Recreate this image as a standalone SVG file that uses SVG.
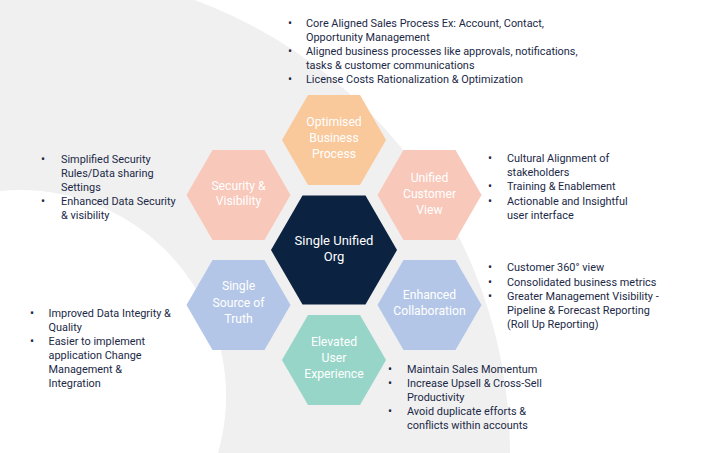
<svg xmlns="http://www.w3.org/2000/svg" xmlns:xlink="http://www.w3.org/1999/xlink" width="709" height="453" viewBox="0 0 709 453">
<defs>
<style>
.hexlabel{font-family:Roboto,"Liberation Sans",sans-serif;font-size:12.2px;fill:#ffffff;text-anchor:middle}
.core{font-size:13px}
.bl{font-family:Roboto,"Liberation Sans",sans-serif;font-size:10.9px;fill:#1b2947}
.dot{text-anchor:middle;font-size:12px}
.peach{fill:#f9c89b}
.pink{fill:#f8c8ba}
.blue{fill:#b4c6e7}
.mint{fill:#96d5c7}
.navy{fill:#0b2341}
</style>
<polygon id="hexS" points="-52,0 -26,-45 26,-45 52,0 26,45 -26,45"/>
<polygon id="hexL" points="-63,0 -31.5,-54.6 31.5,-54.6 63,0 31.5,54.6 -31.5,54.6"/>
</defs>
<rect width="709" height="453" fill="#ffffff"/>
<g id="background">
<circle cx="27" cy="453" r="483" fill="#f0f0f0"/>
<circle cx="20" cy="396" r="206" fill="#ffffff"/>
</g>
<g id="connectors"/>
<g id="node-core">
<use xlink:href="#hexL" x="334" y="250" class="navy"/>
<text class="hexlabel core" x="334" y="244.5">Single Unified</text>
<text class="hexlabel core" x="334" y="260.5">Org</text>
</g>
<g id="node-optimised">
<use xlink:href="#hexS" x="334" y="140" class="peach"/>
<text class="hexlabel" x="334" y="126.3">Optimised</text>
<text class="hexlabel" x="334" y="142.3">Business</text>
<text class="hexlabel" x="334" y="158.3">Process</text>
</g>
<g id="node-unified">
<use xlink:href="#hexS" x="429.5" y="195" class="pink"/>
<text class="hexlabel" x="429.5" y="181.6">Unified</text>
<text class="hexlabel" x="429.5" y="197.6">Customer</text>
<text class="hexlabel" x="429.5" y="213.6">View</text>
</g>
<g id="node-collab">
<use xlink:href="#hexS" x="429.5" y="305" class="blue"/>
<text class="hexlabel" x="429.5" y="298.6">Enhanced</text>
<text class="hexlabel" x="429.5" y="314.6">Collaboration</text>
</g>
<g id="node-ux">
<use xlink:href="#hexS" x="334" y="360" class="mint"/>
<text class="hexlabel" x="334" y="346">Elevated</text>
<text class="hexlabel" x="334" y="362">User</text>
<text class="hexlabel" x="334" y="378">Experience</text>
</g>
<g id="node-truth">
<use xlink:href="#hexS" x="238.5" y="305" class="blue"/>
<text class="hexlabel" x="238.5" y="290.3">Single</text>
<text class="hexlabel" x="238.5" y="306.6">Source of</text>
<text class="hexlabel" x="238.5" y="322.6">Truth</text>
</g>
<g id="node-security">
<use xlink:href="#hexS" x="238.5" y="195" class="pink"/>
<text class="hexlabel" x="238.5" y="190">Security &amp;</text>
<text class="hexlabel" x="238.5" y="205.3">Visibility</text>
</g>
<g id="list-top" class="bl">
<text class="dot" x="290" y="26.5">•</text>
<text x="306" y="26.5">Core Aligned Sales Process Ex: Account, Contact,</text>
<text x="306" y="40.6">Opportunity Management</text>
<text class="dot" x="290" y="54.7">•</text>
<text x="306" y="54.7">Aligned business processes like approvals, notifications,</text>
<text x="306" y="68.8">tasks &amp; customer communications</text>
<text class="dot" x="290" y="82.9">•</text>
<text x="306" y="82.9">License Costs Rationalization &amp; Optimization</text>
</g>
<g id="list-security" class="bl">
<text class="dot" x="43" y="162.8">•</text>
<text x="61" y="162.8">Simplified Security</text>
<text x="61" y="176.8">Rules/Data sharing</text>
<text x="61" y="190.8">Settings</text>
<text class="dot" x="43" y="205">•</text>
<text x="61" y="205">Enhanced Data Security</text>
<text x="61" y="219">&amp; visibility</text>
</g>
<g id="list-truth" class="bl">
<text class="dot" x="32" y="317">•</text>
<text x="48.5" y="317">Improved Data Integrity &amp;</text>
<text x="48.5" y="331">Quality</text>
<text class="dot" x="32" y="345.3">•</text>
<text x="48.5" y="345.3">Easier to implement</text>
<text x="48.5" y="359.3">application Change</text>
<text x="48.5" y="373.2">Management &amp;</text>
<text x="48.5" y="387.1">Integration</text>
</g>
<g id="list-unified" class="bl">
<text class="dot" x="490" y="162">•</text>
<text x="507" y="162">Cultural Alignment of</text>
<text x="507" y="176.3">stakeholders</text>
<text class="dot" x="490" y="190.4">•</text>
<text x="507" y="190.4">Training &amp; Enablement</text>
<text class="dot" x="490" y="204.7">•</text>
<text x="507" y="204.7">Actionable and Insightful</text>
<text x="507" y="218.8">user interface</text>
</g>
<g id="list-collab" class="bl">
<text class="dot" x="490" y="271.2">•</text>
<text x="507" y="271.2">Customer 360° view</text>
<text class="dot" x="490" y="285.6">•</text>
<text x="507" y="285.6">Consolidated business metrics</text>
<text class="dot" x="490" y="299.9">•</text>
<text x="507" y="299.9">Greater Management Visibility -</text>
<text x="507" y="314.1">Pipeline &amp; Forecast Reporting</text>
<text x="507" y="328.2">(Roll Up Reporting)</text>
</g>
<g id="list-ux" class="bl">
<text class="dot" x="390" y="372.8">•</text>
<text x="407" y="372.8">Maintain Sales Momentum</text>
<text class="dot" x="390" y="387">•</text>
<text x="407" y="387">Increase Upsell &amp; Cross-Sell</text>
<text x="407" y="400.6">Productivity</text>
<text class="dot" x="390" y="415.2">•</text>
<text x="407" y="415.2">Avoid duplicate efforts &amp;</text>
<text x="407" y="428.8">conflicts within accounts</text>
</g>
</svg>
